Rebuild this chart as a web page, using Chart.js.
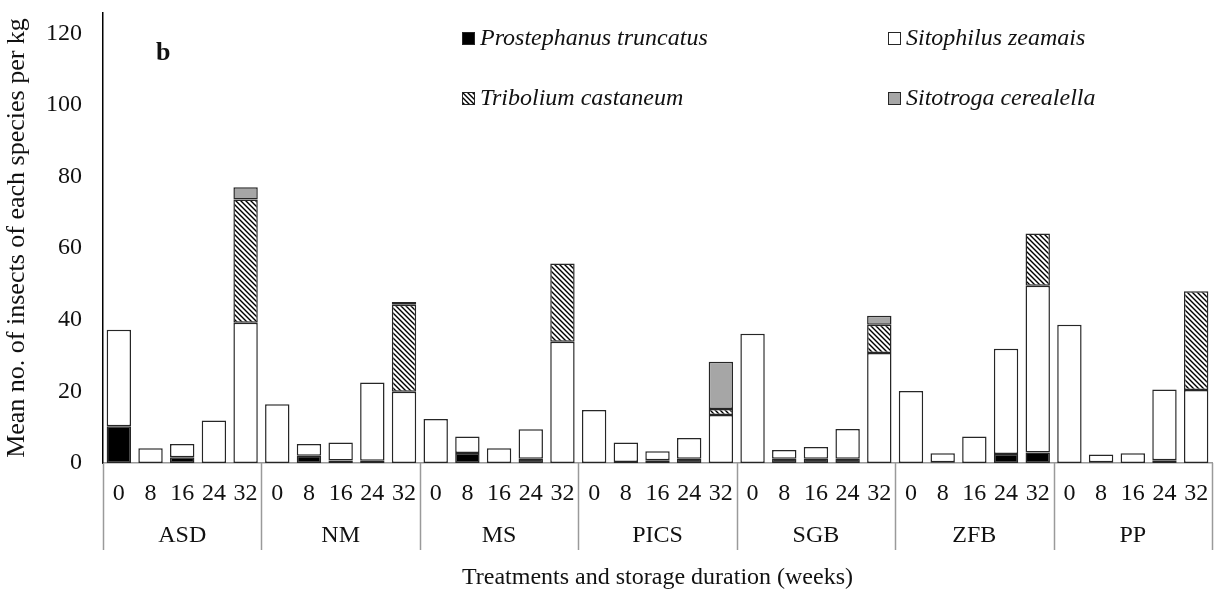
<!DOCTYPE html>
<html>
<head>
<meta charset="utf-8">
<title>Insects per kg by treatment and storage duration</title>
<script src="https://cdn.jsdelivr.net/npm/chart.js@4.4.1/dist/chart.umd.min.js"></script>
<style>
    html, body { margin: 0; padding: 0; background: #fff; }
    #chart-container { width: 1217px; height: 597px; position: relative; }
</style>
</head>
<body>
<div id="chart-container">
    <canvas id="dataChart"></canvas>
</div>
<script>
// storage duration (weeks) for every treatment, and the treatments themselves
const weeks = ['0', '8', '16', '24', '32'];
const treatments = ['ASD', 'NM', 'MS', 'PICS', 'SGB', 'ZFB', 'PP'];

// mean no. of insects per kg, 5 durations x 7 treatments (ASD ... PP)
const prostephanus = [
    10.3, 0, 1.6, 0, 0,
    0, 2.0, 0.7, 0.6, 0,
    0, 2.8, 0, 1.2, 0,
    0, 0.3, 0.8, 1.2, 0,
    0, 1.2, 1.2, 1.2, 0,
    0, 0.2, 0, 2.5, 2.9,
    0, 0.2, 0, 0.8, 0
];
const sitophilus = [
    26.9, 4.1, 3.7, 11.9, 39.2,
    16.4, 3.3, 5.0, 21.9, 19.9,
    12.3, 4.6, 4.1, 8.2, 33.9,
    14.8, 5.4, 2.5, 5.8, 13.4,
    36.1, 2.4, 3.3, 8.3, 30.7,
    20.1, 2.5, 7.4, 29.4, 46.6,
    38.6, 2.2, 2.7, 19.7, 20.4
];
const tribolium = [
    0, 0, 0, 0, 34.4,
    0, 0, 0, 0, 24.3,
    0, 0, 0, 0, 21.8,
    0, 0, 0, 0, 1.7,
    0, 0, 0, 0, 7.9,
    0, 0, 0, 0, 14.6,
    0, 0, 0, 0, 27.6
];
const sitotroga = [
    0, 0, 0, 0, 3.4,
    0, 0, 0, 0, 0.8,
    0, 0, 0, 0, 0,
    0, 0, 0, 0, 13.2,
    0, 0, 0, 0, 2.5,
    0, 0, 0, 0, 0,
    0, 0, 0, 0, 0
];
const yTicks = [0, 20, 40, 60, 80, 100, 120];

document.addEventListener('DOMContentLoaded', function () {
    const serif = '"Liberation Serif", "Times New Roman", serif';
    const edge = '#262626';

    // diagonal hatch used for Tribolium castaneum
    function makeHatch() {
        const c = document.createElement('canvas');
        c.width = 5;
        c.height = 5;
        const g = c.getContext('2d');
        g.fillStyle = '#fff';
        g.fillRect(0, 0, 5, 5);
        g.strokeStyle = '#000';
        g.lineWidth = 1.4;
        g.beginPath();
        g.moveTo(-1, -1); g.lineTo(6, 6);
        g.moveTo(-4, 1); g.lineTo(4, 9);
        g.moveTo(1, -4); g.lineTo(9, 4);
        g.stroke();
        return g.createPattern(c, 'repeat');
    }
    const hatch = makeHatch();

    const labels = [];
    treatments.forEach(() => weeks.forEach(w => labels.push(w)));

    // zero values are left out so they don't draw an empty outline
    const clean = arr => arr.map(v => (v === 0 ? null : v));

    const series = [
        { label: 'Prostephanus truncatus', data: prostephanus, fill: '#000' },
        { label: 'Sitophilus zeamais', data: sitophilus, fill: '#fff' },
        { label: 'Tribolium castaneum', data: tribolium, fill: hatch },
        { label: 'Sitotroga cerealella', data: sitotroga, fill: '#a6a6a6' }
    ];

    // legend, panel letter, treatment groups under the axis
    const extras = {
        id: 'extras',
        afterDraw(chart) {
            const ctx = chart.ctx;
            const x = chart.scales.x;
            const base = chart.chartArea.bottom;
            ctx.save();

            // group separators and treatment names
            ctx.strokeStyle = '#9a9a9a';
            ctx.lineWidth = 1.5;
            ctx.fillStyle = '#111';
            ctx.font = '24px ' + serif;
            ctx.textAlign = 'center';
            ctx.textBaseline = 'middle';
            for (let g = 0; g <= treatments.length; g++) {
                const px = Math.round(x.getPixelForValue(g * weeks.length - 0.5)) + 0.5;
                ctx.beginPath();
                ctx.moveTo(px, base);
                ctx.lineTo(px, base + 87);
                ctx.stroke();
            }
            treatments.forEach((t, g) => {
                const mid = (x.getPixelForValue(g * weeks.length) + x.getPixelForValue(g * weeks.length + 4)) / 2;
                ctx.fillText(t, mid, base + 73);
            });

            // panel letter
            ctx.font = 'bold 26px ' + serif;
            ctx.textAlign = 'left';
            ctx.fillText('b', 156, 53);

            // legend, 2 x 2
            const spots = [[462, 38], [888, 38], [462, 98], [888, 98]];
            ctx.font = 'italic 24px ' + serif;
            series.forEach((s, k) => {
                const [lx, ly] = spots[k];
                ctx.fillStyle = s.fill;
                ctx.fillRect(lx, ly - 6, 12, 12);
                ctx.strokeStyle = edge;
                ctx.lineWidth = 1;
                ctx.strokeRect(lx + 0.5, ly - 5.5, 12, 12);
                ctx.fillStyle = '#111';
                ctx.fillText(s.label, lx + 18, ly + 1);
            });
            ctx.restore();
        }
    };

    const ctx = document.getElementById('dataChart').getContext('2d');
    new Chart(ctx, {
        type: 'bar',
        data: {
            labels: labels,
            datasets: series.map(s => ({
                label: s.label,
                data: clean(s.data),
                backgroundColor: s.fill,
                borderColor: edge,
                borderWidth: 1.5,
                borderSkipped: false,
                barPercentage: 0.77,
                categoryPercentage: 1
            }))
        },
        options: {
            responsive: true,
            maintainAspectRatio: false,
            animation: false,
            layout: { padding: { top: 13, right: 5, left: 0, bottom: 0 } },
            plugins: {
                legend: { display: false },
                tooltip: { enabled: false }
            },
            scales: {
                x: {
                    stacked: true,
                    grid: { display: false, drawTicks: false },
                    border: { color: '#9a9a9a', width: 1.5 },
                    ticks: {
                        autoSkip: false,
                        maxRotation: 0,
                        padding: 16,
                        color: '#111',
                        font: { family: serif, size: 24 }
                    },
                    title: {
                        display: true,
                        text: 'Treatments and storage duration (weeks)',
                        color: '#111',
                        font: { family: serif, size: 24 },
                        padding: { top: 0, bottom: 5 }
                    },
                    afterFit(scale) {
                        scale.height = 134;
                        scale.paddingLeft = 0;
                        scale.paddingRight = 0;
                    }
                },
                y: {
                    stacked: true,
                    min: 0,
                    max: 125.7,
                    grid: { display: false, drawTicks: false },
                    border: { color: '#000', width: 1.5 },
                    afterBuildTicks(scale) {
                        scale.ticks = yTicks.map(v => ({ value: v }));
                    },
                    ticks: {
                        padding: 21,
                        color: '#111',
                        font: { family: serif, size: 24 }
                    },
                    title: {
                        display: true,
                        text: 'Mean no. of insects of each species per kg',
                        color: '#111',
                        font: { family: serif, size: 26 },
                        padding: { top: 2, bottom: 0 }
                    },
                    afterFit(scale) {
                        scale.width = 103;
                        scale.paddingTop = 0;
                        scale.paddingBottom = 0;
                    }
                }
            }
        },
        plugins: [extras]
    });
});
</script>
</body>
</html>
